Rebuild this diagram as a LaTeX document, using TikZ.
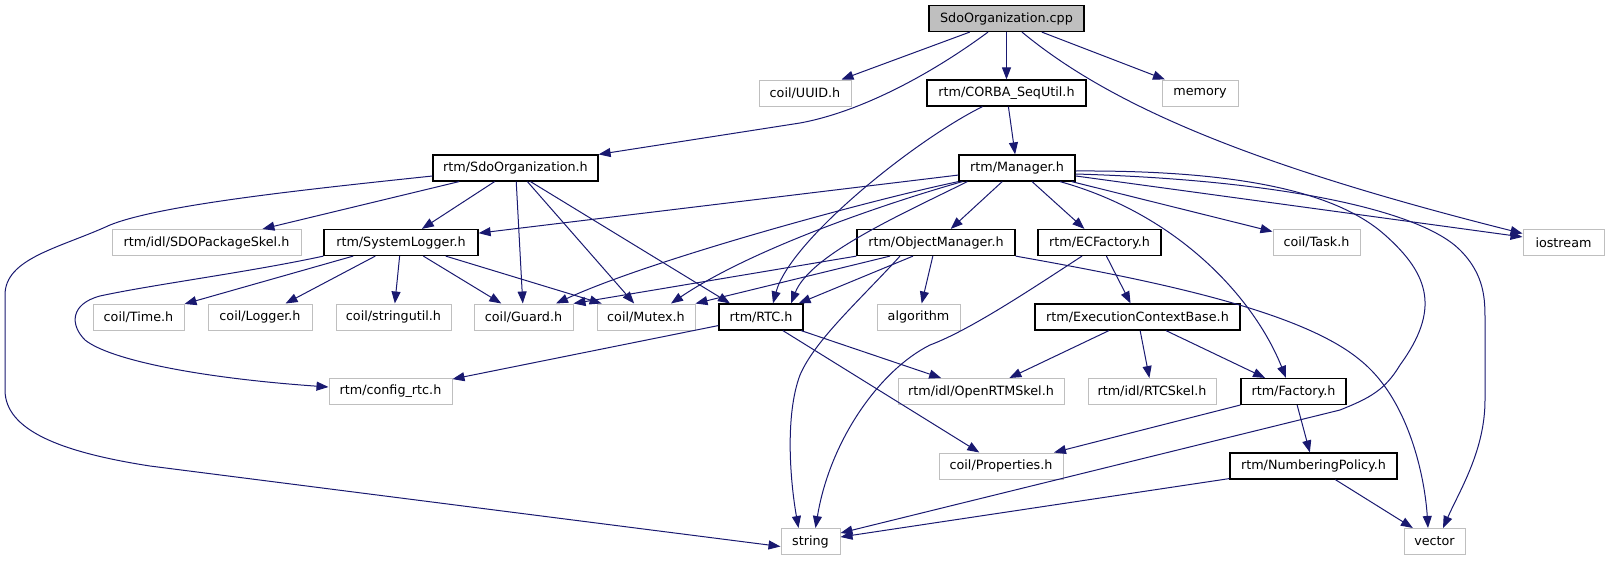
\documentclass[tikz,border=0pt]{standalone}
\usepackage{fontspec}
\setmainfont{DejaVu Sans}
\usetikzlibrary{arrows.meta}
\definecolor{edgeblue}{HTML}{191970}
\definecolor{extgray}{HTML}{BFBFBF}
\newcommand{\nodefnt}{\fontsize{12.75pt}{15pt}\selectfont}
\tikzset{
  box/.style={draw=black, line width=1.2pt, fill=white, minimum height=26pt, inner sep=0pt, font=\nodefnt},
  ext/.style={box, draw=extgray, line width=1pt},
  root/.style={box, fill=extgray},
  dep/.style={draw=edgeblue, line width=1pt, -{Triangle[length=12pt,width=9pt]}}
}
\begin{document}
\begin{tikzpicture}[x=1pt,y=-1pt]
\useasboundingbox (0,0) rectangle (1607,560);
% row 0
\node[root, minimum width=155pt] (cpp) at (1006.5,18.5) {SdoOrganization.cpp};
% row 1
\node[ext, minimum width=92pt] (uuid) at (805,93) {coil/UUID.h};
\node[box, minimum width=159pt] (corba) at (1006.5,93) {rtm/CORBA\_SeqUtil.h};
\node[ext, minimum width=76pt] (memory) at (1200,93) {memory};
% row 2
\node[box, minimum width=165pt] (sdoh) at (515.5,168) {rtm/SdoOrganization.h};
\node[box, minimum width=116pt] (manager) at (1017,168) {rtm/Manager.h};
% row 3
\node[ext, minimum width=189pt] (sdoskel) at (206.5,242.5) {rtm/idl/SDOPackageSkel.h};
\node[box, minimum width=154pt] (syslog) at (401,242.5) {rtm/SystemLogger.h};
\node[box, minimum width=158pt] (objmgr) at (936,242.5) {rtm/ObjectManager.h};
\node[box, minimum width=123pt] (ecfactory) at (1099.5,242.5) {rtm/ECFactory.h};
\node[ext, minimum width=87pt] (task) at (1316.5,242.5) {coil/Task.h};
\node[ext, minimum width=81pt] (iostream) at (1563.5,242.5) {iostream};
% row 4
\node[ext, minimum width=91pt] (time) at (138.5,317) {coil/Time.h};
\node[ext, minimum width=104pt] (logger) at (260,317) {coil/Logger.h};
\node[ext, minimum width=115pt] (stringutil) at (393.5,317) {coil/stringutil.h};
\node[ext, minimum width=99pt] (guard) at (523.5,317) {coil/Guard.h};
\node[ext, minimum width=98pt] (mutex) at (646,317) {coil/Mutex.h};
\node[box, minimum width=84pt] (rtc) at (761,317) {rtm/RTC.h};
\node[ext, minimum width=83pt] (algorithm) at (918.5,317) {algorithm};
\node[box, minimum width=205pt] (ecbase) at (1137.5,317) {rtm/ExecutionContextBase.h};
% row 5
\node[ext, minimum width=123pt] (config) at (390.5,391.5) {rtm/config\_rtc.h};
\node[ext, minimum width=166pt] (openrtm) at (981,391.5) {rtm/idl/OpenRTMSkel.h};
\node[ext, minimum width=128pt] (rtcskel) at (1152,391.5) {rtm/idl/RTCSkel.h};
\node[box, minimum width=105pt] (factory) at (1293.5,391.5) {rtm/Factory.h};
% row 6
\node[ext, minimum width=124pt] (properties) at (1001,466) {coil/Properties.h};
\node[box, minimum width=167pt] (numbering) at (1313.5,466) {rtm/NumberingPolicy.h};
% row 7
\node[ext, minimum width=59pt] (string) at (810.5,541.5) {string};
\node[ext, minimum width=61pt] (vector) at (1434.5,541.5) {vector};

% edges from SdoOrganization.cpp
\draw[dep] (cpp) -- (uuid);
\draw[dep] ([xshift=-18.5pt]cpp.south) .. controls (930,75) and (860,112) .. (800,123) -- (sdoh.north east);
\draw[dep] (cpp) -- (corba);
\draw[dep] (cpp) -- (memory);
\draw[dep] ([xshift=15.5pt]cpp.south) .. controls (1110,105) and (1250,165) .. ([yshift=9pt]iostream.west);
% CORBA_SeqUtil.h
\draw[dep] (corba) -- (manager);
\draw[dep] ([xshift=-24pt]corba.south) .. controls (915,140) and (790,240) .. ([xshift=12pt]rtc.north);
% SdoOrganization.h
\draw[dep] ([yshift=-8pt]sdoh.west) .. controls (300,190) and (160,205) .. (110,225) .. controls (60,248) and (5,258) .. (5,295) -- (5,390) .. controls (5,430) and (60,452) .. (150,466) -- ([yshift=-5pt]string.west);
\draw[dep] (sdoh) -- (sdoskel);
\draw[dep] (sdoh) -- (syslog);
\draw[dep] (sdoh) -- (guard);
\draw[dep] (sdoh) -- (mutex);
\draw[dep] ([xshift=15pt]sdoh.south) -- ([xshift=-31pt]rtc.north);
% SystemLogger.h
\draw[dep] (syslog) -- (time);
\draw[dep] (syslog) -- (logger);
\draw[dep] (syslog) -- (stringutil);
\draw[dep] (syslog) -- (guard);
\draw[dep] (syslog) -- (mutex);
\draw[dep] (syslog.south west) .. controls (250,272) and (150,285) .. (100,296) .. controls (70,304) and (70,325) .. (85,340) .. controls (110,360) and (200,378) .. ([yshift=4.5pt]config.west);
% Manager.h
\draw[dep] (manager) -- (syslog);
\draw[dep] (manager.south west) .. controls (870,200) and (650,260) .. ([xshift=32.5pt]guard.north);
\draw[dep] ([xshift=4pt]manager.south west) .. controls (880,205) and (750,250) .. ([xshift=25pt]mutex.north);
\draw[dep] ([xshift=9pt]manager.south west) .. controls (900,215) and (810,255) .. ([xshift=30pt]rtc.north);
\draw[dep] (manager) -- (objmgr);
\draw[dep] (manager) -- (ecfactory);
\draw[dep] (manager) -- (task);
\draw[dep] (manager) -- (iostream);
\draw[dep] ([xshift=43pt]manager.south) .. controls (1180,215) and (1255,300) .. ([xshift=-7.5pt]factory.north);
\draw[dep] ([yshift=-3pt]manager.east) .. controls (1250,170) and (1340,195) .. (1385,235) .. controls (1430,275) and (1440,310) .. (1400,365) .. controls (1385,390) and (1370,398) .. (1340,410) -- ([yshift=8.5pt]string.east);
\draw[dep] ([yshift=-6pt]manager.east) .. controls (1280,180) and (1420,210) .. (1460,250) .. controls (1485,275) and (1485,300) .. (1485,320) -- (1485,400) .. controls (1485,450) and (1460,490) .. ([xshift=8.5pt]vector.north);
% ObjectManager.h
\draw[dep] (objmgr.south west) -- (guard.north east);
\draw[dep] ([xshift=-46pt]objmgr.south) -- (mutex.north east);
\draw[dep] ([xshift=-23pt]objmgr.south) -- ([xshift=-5pt]rtc.north east);
\draw[dep] (objmgr) -- (algorithm);
\draw[dep] ([xshift=-36pt]objmgr.south) .. controls (860,300) and (815,340) .. (800,375) .. controls (785,415) and (790,480) .. ([xshift=-12pt]string.north);
\draw[dep] (objmgr.south east) .. controls (1150,280) and (1300,310) .. (1360,360) .. controls (1410,400) and (1425,480) .. ([xshift=-6.5pt]vector.north);
% ECFactory.h
\draw[dep] (ecfactory) -- (ecbase);
\draw[dep] ([xshift=-17.5pt]ecfactory.south) .. controls (1030,290) and (970,330) .. (930,345) .. controls (880,370) and (830,440) .. ([xshift=5pt]string.north);
% ExecutionContextBase.h
\draw[dep] (ecbase) -- (openrtm);
\draw[dep] (ecbase) -- (rtcskel);
\draw[dep] (ecbase) -- (factory);
% RTC.h
\draw[dep] (rtc) -- (config);
\draw[dep] (rtc) -- (openrtm);
\draw[dep] (rtc) -- (properties);
% Factory.h
\draw[dep] (factory) -- (properties);
\draw[dep] (factory) -- (numbering);
% NumberingPolicy.h
\draw[dep] (numbering) -- (string);
\draw[dep] (numbering) -- (vector);
\end{tikzpicture}
\end{document}
